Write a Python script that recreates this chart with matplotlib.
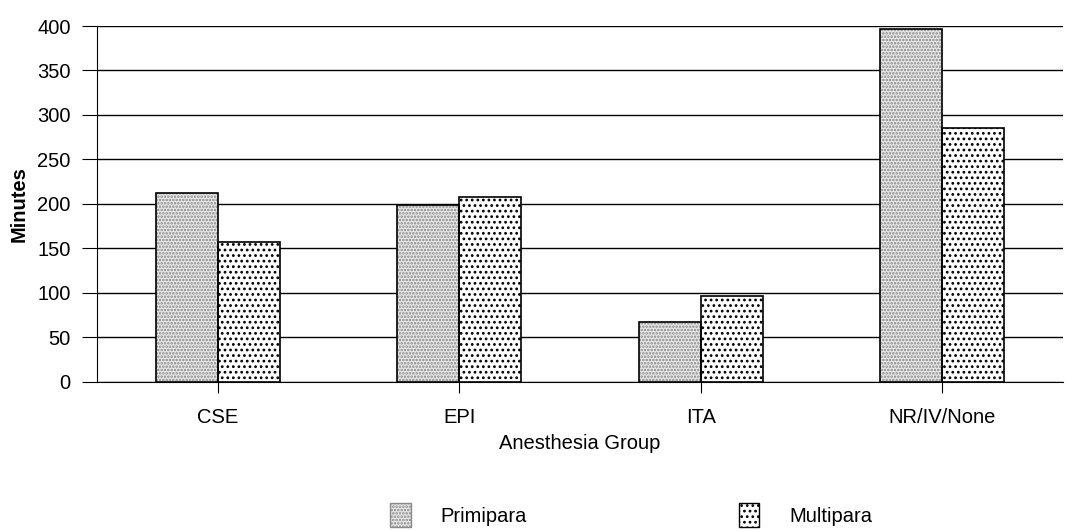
import numpy as np
import matplotlib.pyplot as plt
from matplotlib.patches import Patch

plt.rcParams['font.family'] = ['Liberation Sans', 'DejaVu Sans']
plt.rcParams['hatch.linewidth'] = 1.2

groups = ['CSE', 'EPI', 'ITA', 'NR/IV/None']
primipara = [212, 199, 67, 397]
multipara = [157, 208, 97, 285]

fig = plt.figure(figsize=(10.68, 5.31), dpi=100)
ax = fig.add_axes([0.091, 0.281, 0.904, 0.670])

x = np.arange(len(groups))
w = 0.257
fs = 14.5

# primipara: fine grey dots, drawn hatched in grey then outlined in black
ax.bar(x - w / 2, primipara, w, facecolor='#e6e6e6', edgecolor='#8a8a8a',
       hatch='.....', linewidth=0, zorder=3)
ax.bar(x - w / 2, primipara, w, fill=False, edgecolor='black',
       linewidth=1.2, zorder=4)
# multipara: coarser black dots
ax.bar(x + w / 2, multipara, w, facecolor='white', edgecolor='black',
       hatch='...', linewidth=1.2, zorder=3)

ax.set_xlim(-0.5, len(groups) - 0.5)
ax.set_ylim(0, 400)
ax.set_yticks(range(0, 401, 50))
ax.set_xticks(x)
ax.set_xticklabels(groups)
ax.yaxis.grid(True, color='black', linewidth=1.0, zorder=0)
ax.set_axisbelow(True)
for s in ['top', 'right']:
    ax.spines[s].set_visible(False)
ax.tick_params(axis='both', labelsize=fs, direction='out')
ax.tick_params(axis='y', length=11, pad=8)
ax.tick_params(axis='x', length=8, pad=11)
ax.set_ylabel('Minutes', fontsize=fs, fontweight='bold', labelpad=6)
ax.set_xlabel('Anesthesia Group', fontsize=fs, labelpad=5)

handles = [
    Patch(facecolor='#e6e6e6', edgecolor='#8a8a8a', hatch='.....', label='Primipara'),
    Patch(facecolor='white', edgecolor='black', hatch='...', label='Multipara'),
]
fig.legend(handles=handles, loc='lower center', ncol=2, frameon=False,
           fontsize=fs, bbox_to_anchor=(0.591, -0.027), columnspacing=10.5,
           handlelength=1.0, handleheight=1.5, handletextpad=1.5)

fig.savefig('out.png', dpi=100)
